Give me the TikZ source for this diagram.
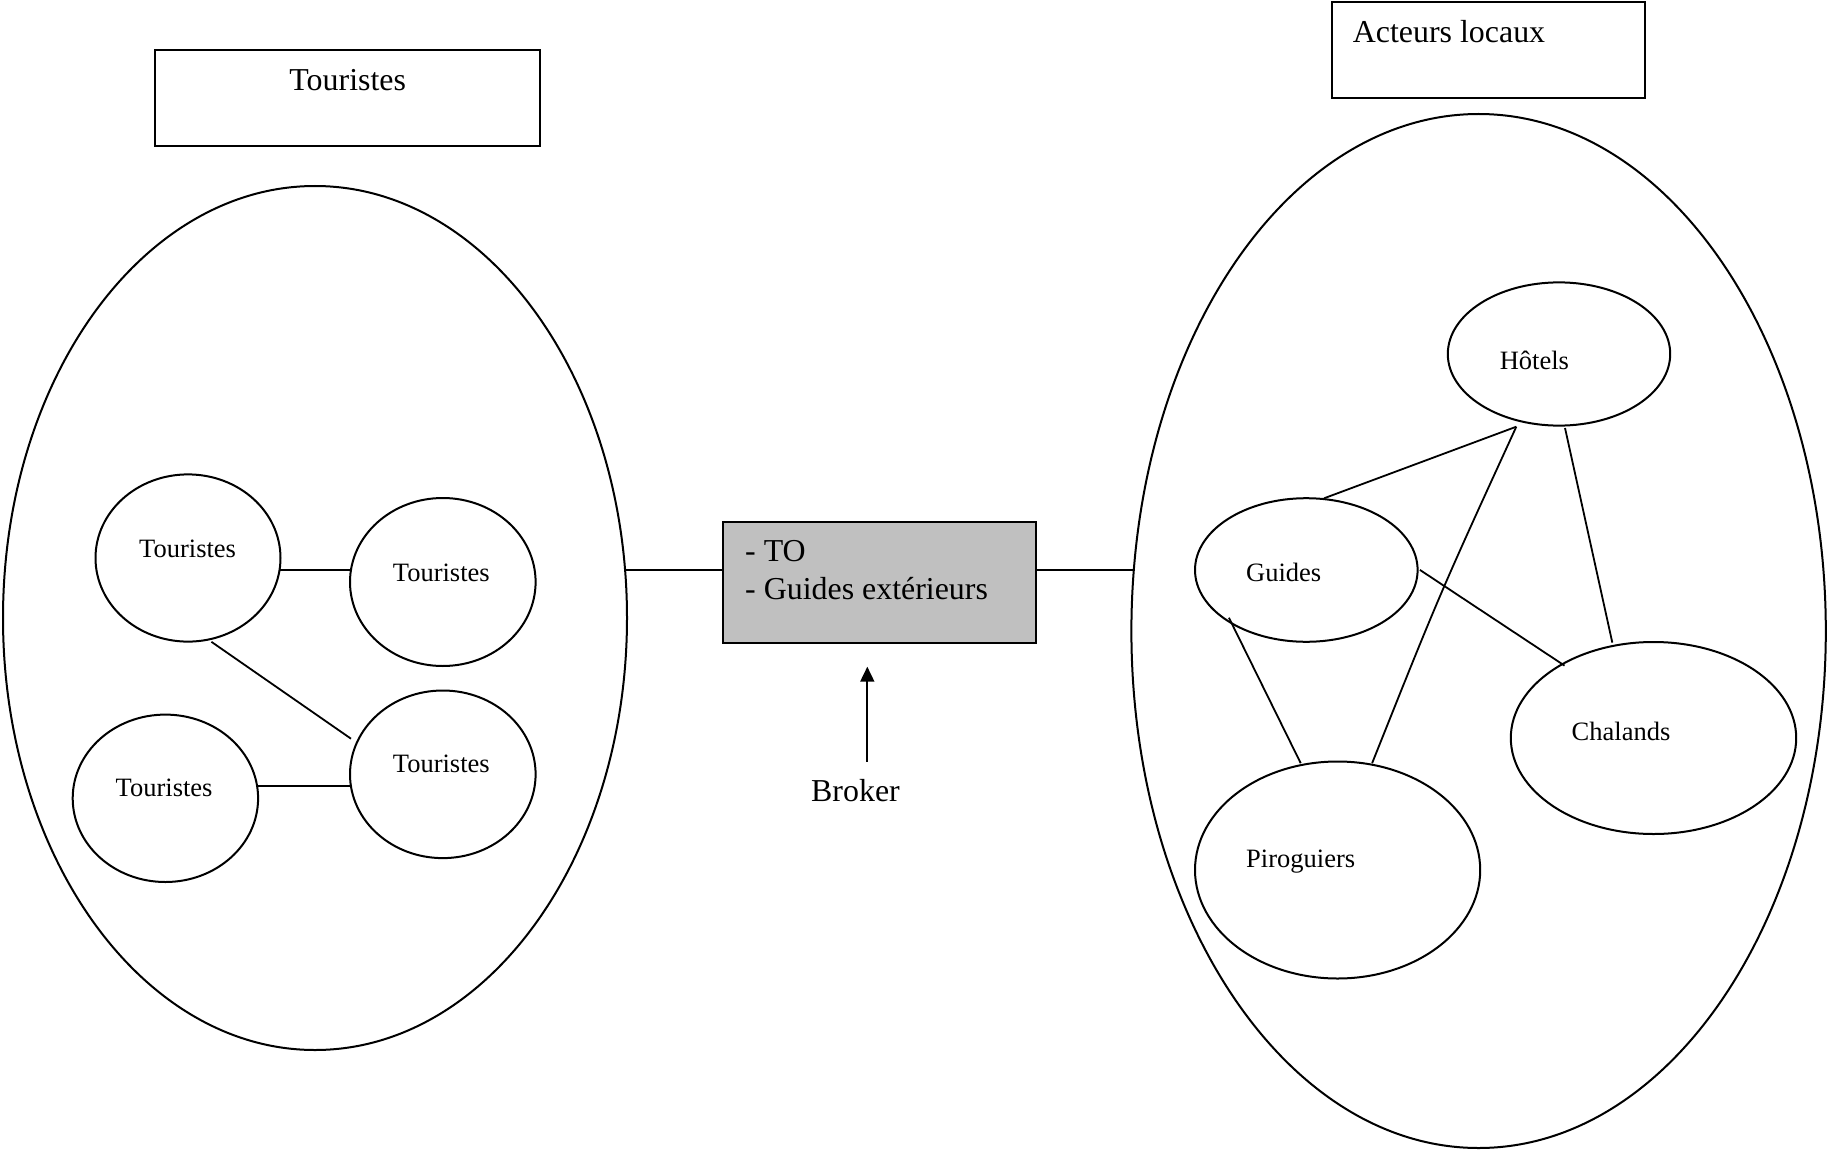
\documentclass[tikz,border=0pt]{standalone}
\usepackage{fontspec}
\setmainfont{Liberation Serif}
\usetikzlibrary{shapes.geometric,calc,arrows.meta}
\newcommand\fontBig{\fontsize{31.9}{38}\selectfont}
\newcommand\fontSmall{\fontsize{26.5}{32}\selectfont}
\definecolor{boxgray}{HTML}{C0C0C0}
\begin{document}
\begin{tikzpicture}[x=1pt,y=-1pt,
  oval/.style={draw, ellipse, line width=2pt, inner sep=0pt, outer sep=0pt},
  frame/.style={draw, rectangle, line width=2pt, inner sep=0pt, outer sep=0pt},
  lblBig/.style={anchor=base west, inner sep=0pt, font=\fontBig},
  lblSmall/.style={anchor=base west, inner sep=0pt, font=\fontSmall},
  link/.style={line width=1.8pt}]
\useasboundingbox (0,0) rectangle (1827,1150);

% title boxes
\node[frame, minimum width=385pt, minimum height=96.5pt] (tbox) at (347.5,97.95) {};
\node[anchor=base, inner sep=0pt, font=\fontBig] (tboxtxt) at (347.7,91) {Touristes};
\node[frame, minimum width=312.9pt, minimum height=96.5pt] (abox) at (1488.25,50.15) {};
\node[lblBig] (aboxtxt) at (1352.7,42.9) {Acteurs locaux};

% big ellipses
\node[oval, minimum width=624pt, minimum height=864pt] (lb) at (315,618) {};
\node[oval, minimum width=694.4pt, minimum height=1034pt] (rb) at (1478.6,631) {};

% broker box
\node[frame, fill=boxgray, minimum width=313.1pt, minimum height=120.7pt] (bk) at (879.85,582.35) {};
\node[lblBig] (bkto) at (745,561.7) {- TO};
\node[lblBig] (bkgu) at (745,599) {- Guides extérieurs};

% tourist ellipses
\node[oval, minimum width=185pt, minimum height=167.2pt] (t1) at (188,558) {};
\node[oval, minimum width=185.6pt, minimum height=168pt] (t2) at (442.8,582) {};
\node[oval, minimum width=185.6pt, minimum height=167.6pt] (t3) at (442.8,774.3) {};
\node[oval, minimum width=185.4pt, minimum height=167.4pt] (t4) at (165.4,798.3) {};
\node[lblSmall] (t1txt) at (139,557) {Touristes};
\node[lblSmall] (t2txt) at (392.7,581.7) {Touristes};
\node[lblSmall] (t3txt) at (392.7,772) {Touristes};
\node[lblSmall] (t4txt) at (115.5,796.8) {Touristes};

% local actors
\node[oval, minimum width=222.4pt, minimum height=143.2pt] (hot) at (1559,354) {};
\node[oval, minimum width=222.6pt, minimum height=143.6pt] (gui) at (1306.3,570) {};
\node[oval, minimum width=285.4pt, minimum height=192pt] (cha) at (1653.5,738) {};
\node[oval, minimum width=285.2pt, minimum height=217pt] (piro) at (1337.6,870) {};
\node[lblSmall] (hottxt) at (1499.6,369.3) {Hôtels};
\node[lblSmall] (guitxt) at (1246,581) {Guides};
\node[lblSmall] (chatxt) at (1571.5,740.2) {Chalands};
\node[lblSmall] (pirotxt) at (1246,867.6) {Piroguiers};

% connectors, tourists
\draw[link] ($(t1.center)+(91.6,12)$) -- ($(t2.center)+(-93.2,-12)$);
\draw[link] ($(t1.center)+(23.4,83.8)$) -- ($(t3.center)+(-91.8,-35.6)$);
\draw[link] ($(t4.center)+(91.7,-12.3)$) -- ($(t3.center)+(-91.9,11.7)$);

% connectors to broker
\draw[link] ($(lb.center)+(310,-48)$) -- ($(bk.center)+(-156.55,-12.35)$);
\draw[link] ($(bk.center)+(156.55,-12.35)$) -- ($(rb.center)+(-344.8,-61)$);

% broker arrow
\coordinate (arrtail) at (867.3,761.7);
\coordinate (arrtip) at (867.3,666.7);
\draw[link, -{Triangle[length=15pt,width=14pt]}] (arrtail) -- (arrtip);
\node[lblBig] (brokertxt) at (811,801.7) {Broker};

% connectors, local actors
\coordinate (hpctl) at (1440,593.2);
\draw[link] ($(gui.center)+(17.7,-71.7)$) -- ($(hot.center)+(-42.7,72.7)$);
\draw[link] ($(hot.center)+(-42.7,72.7)$) .. controls (hpctl) .. ($(piro.center)+(34.5,-106.8)$);
\draw[link] ($(hot.center)+(6,74)$) -- ($(cha.center)+(-41.2,-95.4)$);
\draw[link] ($(gui.center)+(113.6,-0.1)$) -- ($(cha.center)+(-89,-72.4)$);
\draw[link] ($(gui.center)+(-77.4,47.7)$) -- ($(piro.center)+(-36.9,-106.8)$);
\end{tikzpicture}
\end{document}
